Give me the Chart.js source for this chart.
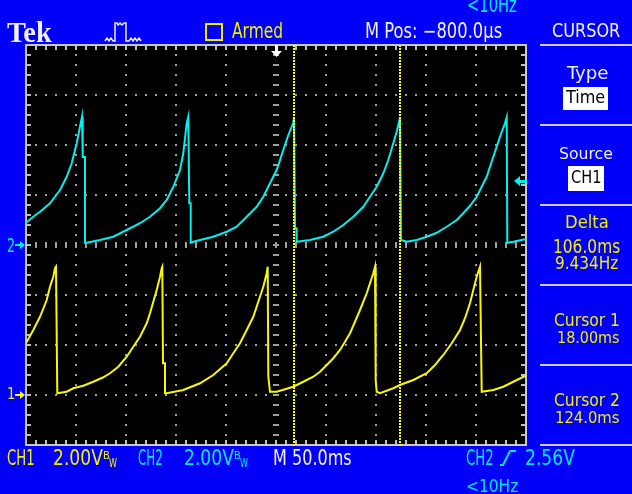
<!DOCTYPE html>
<html><head><meta charset="utf-8">
<script src="https://cdn.jsdelivr.net/npm/chart.js@4.4.1/dist/chart.umd.min.js"></script>
<style>
html,body{margin:0;padding:0;background:#0000f8;width:632px;height:494px;overflow:hidden}
#scr{position:relative;width:632px;height:494px;font-family:"DejaVu Sans Condensed","DejaVu Sans",sans-serif}
#cv{position:absolute;left:0;top:0}
.t{position:absolute;white-space:nowrap;line-height:1;transform-origin:0 0}
.wh{color:#f0f0ff}.ye{color:#f0f000}.cy{color:#00e8ff}.bk{color:#000}
.sep{position:absolute;left:540px;width:92px;height:2px;background:#c8c8f0}
.box{position:absolute;background:#fff}
svg{position:absolute;left:0;top:0}
</style></head><body>
<div id="scr">
  <canvas id="cv" width="632" height="494"></canvas>
  <svg width="632" height="494">
    <polyline points="105,41 107,38 109,41 111,38 113,41 115,41 115,23 117,23 118,25 120,23 122,25 124,23 126,23 126,41 129,41 131,38 133,41 135,38 137,41 139,38 141,41" fill="none" stroke="#f0f0ff" stroke-width="1.5"/>
    <polyline points="500,465 503,465 510,451 516,451" fill="none" stroke="#00e8ff" stroke-width="2"/>
  </svg>
</div>
<script>
// ══════════════════════════════════════════
//  SCOPE SETTINGS  (50 ms/div, 2 V/div)
// ══════════════════════════════════════════
var T_MIN=-250, T_MAX=250, MS_DIV=50;
var VDIV=2;
var CH1_POS=-3, CH2_POS=0;      // ground markers, divisions
var CURSORS=[18,124];           // ms
var TRIG_V=2.56;                // CH2 trigger level
var CYAN='#00f0f0', YEL='#f8f800';

/* ── CH1 (yellow) time ms / volts ── */
var CH1_T=[-250,-242.7,-236,-229.3,-226,-222.7,-221,-220,-218.7,
  -209.3,-202.7,-192.7,-182.7,-172.7,-166,-157.7,-149.3,-142.7,-136,-129.3,-126,-119.3,-116,-114.3,-113.7,-113,-111,-111,
  -109.3,-92.7,-76,-62.7,-49.3,-42.7,-36,-29.3,-22.7,-17.7,-12.7,-9.3,-8.3,-7.7,-6,
  0.7,17.3,27.3,37.3,44,50.7,57.3,64,69,74,79,84,90.7,94,97.3,99,99.7,100.7,
  104,117.3,124,137.3,150.7,159,167.3,175.7,184,189,194,197.3,200.7,204,205.7,
  217.3,227.3,237.3,249,250];
var CH1_V=[2.07,2.6,3.13,3.8,4.33,4.73,5.07,5.13,0.07,
  0.13,0.27,0.37,0.53,0.71,0.87,1.13,1.53,1.93,2.33,2.87,3.27,4.2,4.73,5.07,5.13,1.27,1.27,0.07,
  0.07,0.2,0.47,0.8,1.27,1.67,2.07,2.6,3.13,3.73,4.33,4.87,5.13,0.73,0.13,
  0.13,0.33,0.53,0.73,0.93,1.2,1.47,1.8,2.13,2.47,2.93,3.4,4.07,4.47,4.87,5.13,0.6,0.13,
  0.07,0.27,0.4,0.6,0.87,1.2,1.6,2.07,2.6,3.07,3.67,4.2,4.73,5.13,0.13,
  0.2,0.33,0.53,0.76,0.78];

/* ── CH2 (cyan) time ms / volts ── */
var CH2_T=[-250,-242.7,-236,-226,-216,-209.3,-204.3,-199.3,-196,-194,-193.3,-191,-191,
  -189.3,-176,-162.7,-149.3,-136,-126,-116,-109.3,-102.7,-96,-92.7,-89.3,-87.7,-86.7,-85.3,-85.3,
  -82.7,-76,-62.7,-49.3,-39.3,-29.3,-19.3,-12.7,-6,0.7,7.3,12,17.3,18,19,20.3,20.7,
  34,47.3,57.3,67.3,77.3,87.3,94,100.7,107.3,112.3,117.3,120.7,123.3,124,125,
  130.7,140.7,150.7,160.7,170.7,180.7,187.3,194,200.7,205.7,210.7,217.3,224,229,230.7,231.3,
  237.3,249,250];
var CH2_V=[0.89,1.13,1.33,1.67,2.2,2.73,3.27,4.07,4.73,5.13,3.52,3.52,0.09,
  0.09,0.2,0.33,0.6,0.87,1.13,1.47,1.8,2.33,3.0,3.67,4.87,5.13,1.67,1.67,0.09,
  0.13,0.2,0.33,0.53,0.73,1.13,1.53,1.93,2.47,3.0,3.8,4.36,4.89,5.12,0.67,0.67,0.13,
  0.2,0.33,0.53,0.8,1.13,1.53,1.93,2.33,2.87,3.4,4.07,4.53,4.97,5.12,0.2,
  0.13,0.2,0.33,0.49,0.73,1.0,1.27,1.57,1.93,2.33,2.73,3.53,4.33,4.87,5.11,0.09,
  0.13,0.23,0.24];

function pts(ts,vs,pos){return ts.map(function(t,i){return{x:t,y:vs[i]/VDIV+pos};});}

// ══════════════════════════════════════════
//  GRATICULE / MARKERS PLUGIN
// ══════════════════════════════════════════
function tri(g,a,b,c,d,e,f){g.beginPath();g.moveTo(a,b);g.lineTo(c,d);g.lineTo(e,f);g.closePath();g.fill();}
function drawGrat(c){
  var g=c.ctx,a=c.chartArea,xs=c.scales.x,ys=c.scales.y,i,j,px,py;
  var cx=Math.round(xs.getPixelForValue(0)),cy=Math.round(ys.getPixelForValue(0));
  g.save();
  g.fillStyle='#a0a0a0';
  for(i=1;i<10;i++){if(i===5)continue;px=Math.round(xs.getPixelForValue(T_MIN+i*MS_DIV));
    for(j=1;j<40;j++){py=Math.round(ys.getPixelForValue(-4+j/5));g.fillRect(px-1,py-1,2,2);}}
  for(i=1;i<8;i++){if(i===4)continue;py=Math.round(ys.getPixelForValue(-4+i));
    for(j=1;j<50;j++){px=Math.round(xs.getPixelForValue(T_MIN+j*MS_DIV/5));g.fillRect(px-1,py-1,2,2);}}
  /* centre axes with minor ticks */
  for(j=1;j<40;j++){py=Math.round(ys.getPixelForValue(-4+j/5));g.fillRect(cx-3,py-1,6,2);}
  for(j=1;j<50;j++){px=Math.round(xs.getPixelForValue(T_MIN+j*MS_DIV/5));g.fillRect(px-1,cy-3,2,6);}
  /* frame ticks */
  g.fillStyle='#c0c0c0';
  for(j=1;j<50;j++){px=Math.round(xs.getPixelForValue(T_MIN+j*MS_DIV/5));g.fillRect(px-1,a.top,2,5);g.fillRect(px-1,a.bottom-5,2,5);}
  for(j=1;j<40;j++){py=Math.round(ys.getPixelForValue(-4+j/5));g.fillRect(a.left,py-1,5,2);g.fillRect(a.right-5,py-1,5,2);}
  g.strokeStyle='#c8c8c8';g.lineWidth=2;g.strokeRect(a.left,a.top,a.right-a.left,a.bottom-a.top);
  g.restore();
}
function drawMarks(c){
  var g=c.ctx,a=c.chartArea,xs=c.scales.x,ys=c.scales.y;
  g.save();
  g.fillStyle='#ffff00';
  CURSORS.forEach(function(t){var px=Math.round(xs.getPixelForValue(t));for(var y=a.top;y<a.bottom;y+=3)g.fillRect(px-1,y,2,2);});
  var tx=Math.round(xs.getPixelForValue(0));
  g.fillStyle='#fff';g.fillRect(tx-1,a.top,3,7);tri(g,tx-5,a.top+6,tx+6,a.top+6,tx+0.5,a.top+12);
  var ty=Math.round(ys.getPixelForValue(TRIG_V/VDIV+CH2_POS));
  g.fillStyle=CYAN;tri(g,a.right-12,ty,a.right-6,ty-5,a.right-6,ty+5);g.fillRect(a.right-6,ty-1,7,3);
  [[CH2_POS,CYAN],[CH1_POS,YEL]].forEach(function(m){
    var y=Math.round(ys.getPixelForValue(m[0]));g.fillStyle=m[1];
    g.fillRect(15,y-1,6,2);tri(g,20,y-4,25,y,20,y+4);
  });
  g.restore();
}
var scope={id:'scope',
  beforeDraw:function(c){var a=c.chartArea,g=c.ctx;g.save();g.fillStyle='#000';g.fillRect(a.left-1,a.top-1,a.right-a.left+2,a.bottom-a.top+2);g.restore();},
  beforeDatasetsDraw:drawGrat,
  afterDatasetsDraw:drawMarks
};

new Chart(document.getElementById('cv'),{
  type:'scatter',
  data:{datasets:[
    {label:'CH2',data:pts(CH2_T,CH2_V,CH2_POS),showLine:true,borderColor:CYAN,borderWidth:2,pointRadius:0,tension:0},
    {label:'CH1',data:pts(CH1_T,CH1_V,CH1_POS),showLine:true,borderColor:YEL,borderWidth:2,pointRadius:0,tension:0}
  ]},
  options:{responsive:false,animation:false,events:[],
    layout:{padding:{left:26,top:45,right:106,bottom:49}},
    scales:{x:{type:'linear',min:T_MIN,max:T_MAX,display:false},y:{min:-4,max:4,display:false}},
    plugins:{legend:{display:false},tooltip:{enabled:false}}},
  plugins:[scope]
});

// ══════════════════════════════════════════
//  SCREEN TEXT
// ══════════════════════════════════════════
var S=document.getElementById('scr');
function lbl(txt,cls,x,cap,capH,w){
  var fs=capH/0.729,e=document.createElement('div');
  e.className='t '+cls;e.textContent=txt;
  e.style.fontSize=fs+'px';e.style.left=x+'px';e.style.top=(cap-0.117*fs)+'px';
  S.appendChild(e);
  if(w)e.style.transform='scaleX('+(w/e.offsetWidth)+')';
  return e;
}
function div(cls,css){var e=document.createElement('div');e.className=cls;e.style.cssText=css;S.appendChild(e);return e;}

var tek=lbl('Tek','wh',7,23,19,45);
tek.style.fontFamily='"Liberation Serif",serif';tek.style.fontWeight='bold';
tek.style.fontSize='29px';tek.style.top=(23-0.175*29)+'px';
tek.style.transform='';tek.style.transform='scaleX('+(45/tek.offsetWidth)+')';

div('','position:absolute;left:205px;top:23px;width:14px;height:14px;border:2px solid #f0f000');
lbl('Armed','ye',232,23,15,51);
lbl('M Pos: \u2212800.0\u00b5s','wh',365,23,15,137);
lbl('<10Hz','cy',467,-3,15,50);
lbl('CURSOR','wh',552,23,14,68);

[44,124,204,284,364,444].forEach(function(y){div('sep','top:'+y+'px');});
lbl('Type','wh',567,66,13,42);
div('box','left:563px;top:87px;width:45px;height:23px');
lbl('Time','bk',566,90,13,39);
lbl('Source','wh',559,148,12,54);
div('box','left:568px;top:166px;width:36px;height:25px');
lbl('CH1','bk',571,170,13,30);
lbl('Delta','ye',565,215,13,44);
lbl('106.0ms','ye',553,239,14,67);
lbl('9.434Hz','ye',555,256,13,63);
lbl('Cursor 1','ye',554,313,13,66);
lbl('18.00ms','ye',557,332,12,63);
lbl('Cursor 2','ye',554,393,13,66);
lbl('124.0ms','ye',555,412,12,65);

lbl('2','cy',7,238,14,8);
lbl('1','ye',7,388,12,8);

lbl('CH1','ye',7,450,15,28);
lbl('2.00V','ye',53,450,15,50);
lbl('B','ye',103,452,8,7);
lbl('W','ye',109,458,9,8);
lbl('CH2','cy',138,450,15,25);
lbl('2.00V','cy',184,450,15,50);
lbl('B','cy',234,452,8,7);
lbl('W','cy',240,458,9,8);
lbl('M 50.0ms','wh',273,450,15,79);
lbl('CH2','cy',466,450,15,28);
lbl('2.56V','cy',525,450,15,50);
lbl('<10Hz','cy',466,479,13,52);
</script>
</body></html>
